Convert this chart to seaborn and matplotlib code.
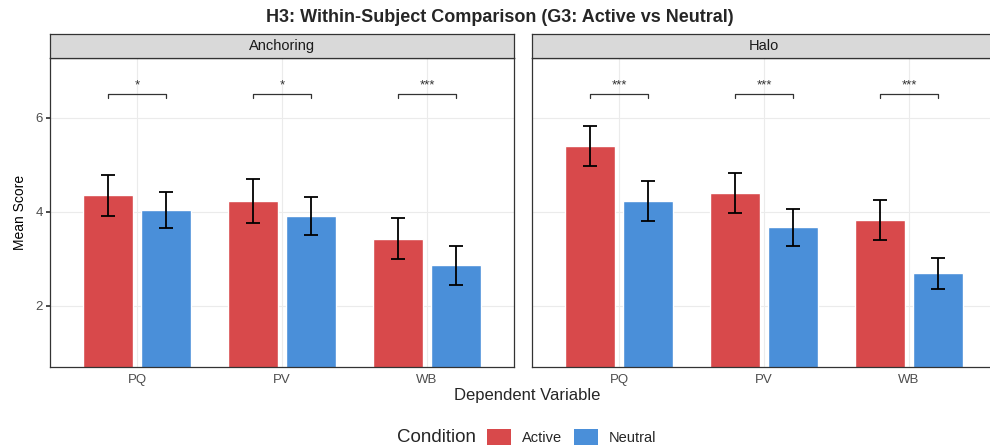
import numpy as np
import pandas as pd
import matplotlib
matplotlib.use("Agg")
import matplotlib.pyplot as plt
import seaborn as sns
from matplotlib.patches import Patch

# values
panels = ["Anchoring", "Halo"]
variables = ["PQ", "PV", "WB"]
conditions = ["Active", "Neutral"]

anch_active = [4.35, 4.23, 3.43]
anch_active_err = [0.43, 0.47, 0.44]
anch_neutral = [4.04, 3.91, 2.86]
anch_neutral_err = [0.38, 0.40, 0.41]

halo_active = [5.40, 4.40, 3.82]
halo_active_err = [0.43, 0.42, 0.43]
halo_neutral = [4.23, 3.67, 2.69]
halo_neutral_err = [0.43, 0.40, 0.33]

anch_sig = ["*", "*", "***"]
halo_sig = ["***", "***", "***"]

colors = {"Active": "#D8494B", "Neutral": "#4A8FD9"}

rows = []
for panel, act, act_e, neu, neu_e in [
    ("Anchoring", anch_active, anch_active_err, anch_neutral, anch_neutral_err),
    ("Halo", halo_active, halo_active_err, halo_neutral, halo_neutral_err),
]:
    for i, v in enumerate(variables):
        rows.append([panel, v, "Active", act[i], act_e[i]])
        rows.append([panel, v, "Neutral", neu[i], neu_e[i]])
df = pd.DataFrame(rows, columns=["Panel", "Variable", "Condition", "Mean", "SE"])
sigs = {"Anchoring": anch_sig, "Halo": halo_sig}

sns.set_theme(style="white")
plt.rcParams["font.family"] = ["Liberation Sans", "DejaVu Sans"]

fig = plt.figure(figsize=(9.9, 4.48), dpi=100)
W, H = 990, 448

def fx(px):
    return px / W

def fy(py):
    return 1 - py / H

panel_left = [50, 532]
panel_w = 464
ax_bottom, ax_top = 367, 58
strip_top = 34

for k, panel in enumerate(panels):
    ax = fig.add_axes([fx(panel_left[k]), fy(ax_bottom), fx(panel_w), (ax_bottom - ax_top) / H])
    sub = df[df.Panel == panel]
    sns.barplot(data=sub, x="Variable", y="Mean", hue="Condition", order=variables,
                hue_order=conditions, palette=colors, width=0.8, gap=0.125,
                errorbar=None, saturation=1, legend=False, ax=ax)
    # error bars on the bar centres
    for cont, cond in zip(ax.containers, conditions):
        s = sub[sub.Condition == cond].set_index("Variable").loc[variables]
        xs = [b.get_x() + b.get_width() / 2 for b in cont]
        ax.errorbar(xs, s["Mean"], yerr=s["SE"], fmt="none", ecolor="black",
                    elinewidth=1.3, capsize=4.7, capthick=1.3, zorder=5)
    # significance brackets
    a_cont, n_cont = ax.containers[0], ax.containers[1]
    for i in range(len(variables)):
        x1 = a_cont[i].get_x() + a_cont[i].get_width() / 2
        x2 = n_cont[i].get_x() + n_cont[i].get_width() / 2
        ax.plot([x1, x1, x2, x2], [6.42, 6.5, 6.5, 6.42], color="#333333", lw=0.9, zorder=5)
        ax.text((x1 + x2) / 2, 6.55, sigs[panel][i], ha="center", va="bottom",
                fontsize=9.5, color="#333333")
    ax.set_ylim(0.70, 7.27)
    ax.set_xlim(-0.6, 2.6)
    ax.set_yticks([2, 4, 6])
    ax.grid(True, color="#EBEBEB", lw=0.8)
    ax.set_axisbelow(True)
    for sp in ax.spines.values():
        sp.set_color("#333333")
        sp.set_linewidth(0.9)
        sp.set_visible(True)
    ax.set_xlabel("")
    ax.tick_params(axis="x", length=3, color="#333333", labelsize=9.5, labelcolor="#4D4D4D", pad=2)
    if k == 0:
        ax.set_ylabel("Mean Score", fontsize=10, color="black", labelpad=6)
        ax.tick_params(axis="y", length=3, color="#333333", labelsize=9.5, labelcolor="#4D4D4D", left=True, pad=2)
    else:
        ax.set_ylabel("")
        ax.set_yticklabels([])
        ax.tick_params(axis="y", length=0, left=False)

    # facet strip
    sax = fig.add_axes([fx(panel_left[k]), fy(ax_top), fx(panel_w), (ax_top - strip_top) / H])
    sax.set_facecolor("#D9D9D9")
    sax.set_xticks([])
    sax.set_yticks([])
    for sp in sax.spines.values():
        sp.set_color("#333333")
        sp.set_linewidth(0.9)
    sax.text(0.5, 0.5, panel, ha="center", va="center", fontsize=10.5, color="#1A1A1A",
             transform=sax.transAxes)

fig.text(fx(500), fy(17), "H3: Within-Subject Comparison (G3: Active vs Neutral)",
         ha="center", va="center", fontsize=13, fontweight="bold")
fig.text(fx(527), fy(395), "Dependent Variable", ha="center", va="center", fontsize=12)

fig.text(fx(397), fy(437), "Condition", ha="left", va="center", fontsize=13.5)
handles = [Patch(facecolor=colors[c], edgecolor="none", label=c) for c in conditions]
fig.legend(handles=handles, loc="center left", bbox_to_anchor=(fx(487), fy(437)),
           ncol=2, frameon=False, fontsize=10.5, handlelength=1.65, handleheight=1.3,
           handletextpad=0.75, columnspacing=0.8, borderaxespad=0, borderpad=0)

fig.savefig("out.png", dpi=100)
